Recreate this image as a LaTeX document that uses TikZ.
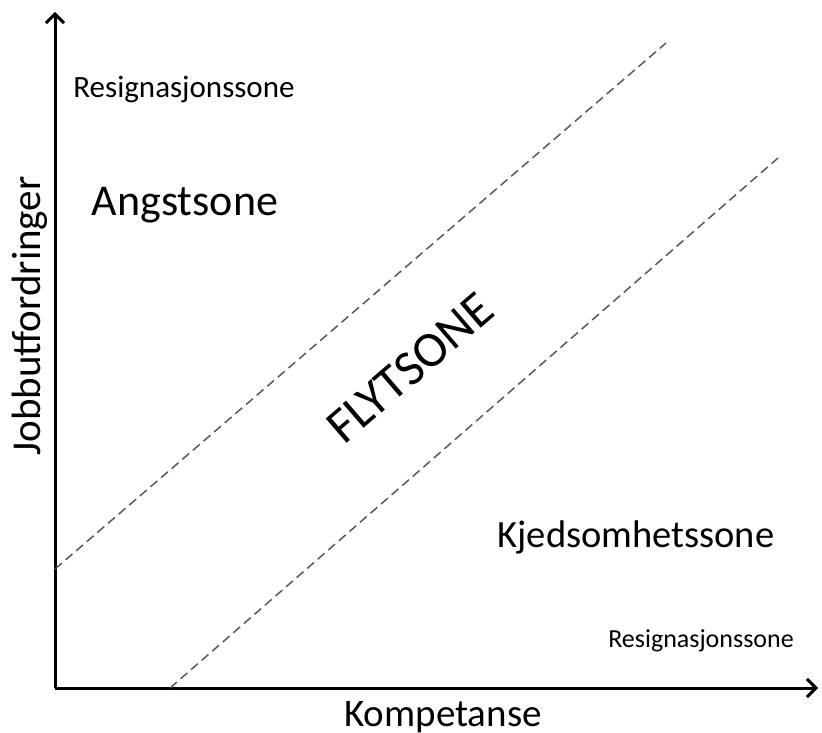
\documentclass[tikz,border=0pt]{standalone}
\usepackage{fontspec}
\setmainfont{Carlito}
\usetikzlibrary{arrows.meta}
\tikzset{
  axis/.style={line width=3pt,-{Straight Barb[length=9pt,width=18pt,line width=3pt]}},
  zoneline/.style={dashed,dash pattern=on 9pt off 5pt,line width=1.5pt,black!65},
  smalllabel/.style={font=\fontsize{28}{32}\selectfont},
  biglabel/.style={font=\fontsize{40}{46}\selectfont},
  axislabel/.style={inner sep=0pt,font=\fontsize{39}{44}\selectfont}
}
\begin{document}
\begin{tikzpicture}[x=1pt,y=-1pt]
  \useasboundingbox (0,0) rectangle (822,733);
  % axes
  \coordinate (O) at (55,688);
  \coordinate (ytop) at (55,12);
  \coordinate (xend) at (818,688);
  \draw[axis] (O)--(ytop);
  \draw[axis] (O)--(xend);
  % zone borders
  \coordinate (upA) at (55,569);
  \coordinate (upB) at (666,43);
  \coordinate (loA) at (170,688);
  \coordinate (loB) at (778,158);
  \draw[zoneline] (upA)--(upB);
  \draw[zoneline] (loA)--(loB);
  % labels
  \node[smalllabel,font=\fontsize{31}{36}\selectfont] (resigtop) at (184,90) {Resignasjonssone};
  \node[biglabel,font=\fontsize{44}{50}\selectfont] (angst) at (185,205) {Angstsone};
  \node[biglabel,font=\fontsize{50}{56}\selectfont,rotate=40.7] (flyt) at (410,368) {FLYTSONE};
  \node[biglabel,font=\fontsize{38.5}{44}\selectfont] (kjed) at (636,537) {Kjedsomhetssone};
  \node[smalllabel,font=\fontsize{26}{30}\selectfont] (resigbot) at (701,641) {Resignasjonssone};
  \node[axislabel] (komp) at (443,717) {Kompetanse};
  \node[axislabel,font=\fontsize{41}{46}\selectfont,rotate=90] (jobb) at (30,316) {Jobbutfordringer};
\end{tikzpicture}
\end{document}
